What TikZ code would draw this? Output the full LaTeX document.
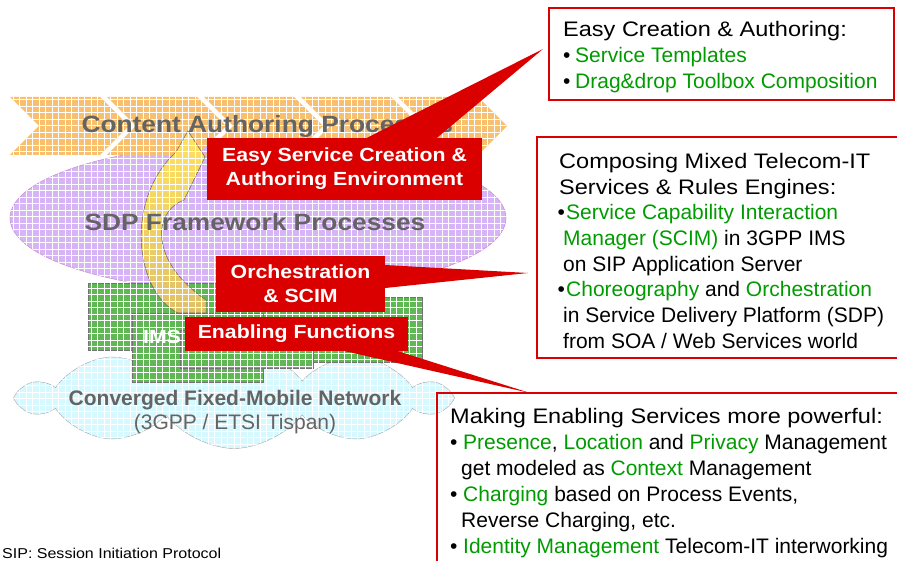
\documentclass[tikz,border=0pt]{standalone}
\usepackage{fontspec}
\setmainfont{Liberation Sans}
\newfontfamily\widesans[FakeStretch=1.12]{Liberation Sans}
\usetikzlibrary{shapes.symbols,patterns}

\definecolor{calloutred}{RGB}{218,0,0}
\definecolor{textgreen}{RGB}{0,155,0}
\definecolor{chevron}{RGB}{248,192,110}
\definecolor{lavender}{RGB}{214,180,246}
\definecolor{cloudblue}{RGB}{214,248,255}
\definecolor{imsgreen}{RGB}{96,184,84}
\definecolor{arrowyellow}{RGB}{255,226,96}
\definecolor{arrowochre}{RGB}{224,192,104}
\definecolor{labelgray}{RGB}{100,100,100}

\newcommand{\grn}[1]{\textcolor{textgreen}{#1}}

% faint white grid on the background shapes
\pgfdeclarepatternformonly{texgrid}{\pgfqpoint{-0.5pt}{-0.5pt}}{\pgfqpoint{7pt}{7pt}}{\pgfqpoint{6.5pt}{6.5pt}}{%
  \pgfsetlinewidth{0.35pt}%
  \pgfpathmoveto{\pgfqpoint{0pt}{0pt}}\pgfpathlineto{\pgfqpoint{6.5pt}{0pt}}%
  \pgfpathmoveto{\pgfqpoint{0pt}{0pt}}\pgfpathlineto{\pgfqpoint{0pt}{6.5pt}}%
  \pgfusepath{stroke}}

\tikzset{
  texture/.style={postaction={pattern=texgrid, pattern color=white, fill opacity=0.35}},
  chev/.style={fill=chevron, texture},
  win/.style={fill=imsgreen, draw=black!55, line width=0.4pt, texture},
  graylabel/.style={text=labelgray, font=\widesans\fontsize{23.5}{28}\selectfont\bfseries},
  callout/.style={fill=calloutred, text=white, align=center, inner sep=0,
    font=\widesans\fontsize{19}{24}\selectfont\bfseries},
  boxred/.style={draw=calloutred, line width=1.8pt},
  boxtext/.style={anchor=north west, align=left, inner sep=0,
    font=\fontsize{21}{26}\selectfont}
}

\begin{document}
\begin{tikzpicture}[x=1pt,y=-1pt]
  \useasboundingbox (0,0) rectangle (897,561);
  \clip (0,0) rectangle (897,561);

  % SDP ellipse
  \filldraw[fill=lavender, draw=violet!45, line width=0.5pt, texture]
    (258,218) ellipse [x radius=248pt, y radius=75pt];

  % Content authoring chevrons
  \foreach \x/\w in {10/90,107/90,204/90,301/90,398/80}
    \fill[chev] (\x,97) -- ++(\w,0) -- ++(29,29) -- ++(-29,29) -- ++(-\w,0) -- ++(29,-29) -- cycle;

  % Network cloud
  \node[cloud, draw=gray!70, fill=cloudblue, texture, cloud puffs=10, cloud puff arc=105, aspect=4.2,
    minimum width=425pt, minimum height=101pt, inner sep=0] (net) at (234,398) {};

  % IMS windows
  \foreach \a/\b/\c/\d in {88/283/330/350, 228/297/422/362, 132/313/263/382, 180/330/313/368}
    \filldraw[win] (\a,\b) rectangle (\c,\d);

  % Curved arrow
  \path[draw=black!60, line width=0.5pt, top color=arrowyellow, bottom color=arrowochre, texture]
    (178,313) .. controls (135,292) and (124,200) .. (176,152)
    -- (188,131) -- (205,157) -- (184,200)
    .. controls (152,212) and (150,262) .. (206,300) -- (206,313) -- cycle;

  % Layer labels
  \node[graylabel, anchor=west] (content) at (78,126) {Content Authoring Processes};
  \node[graylabel] (sdp) at (255,222) {SDP Framework Processes};
  \node[text=labelgray, font=\fontsize{21}{24}\selectfont\bfseries] (conv) at (235,400) {Converged Fixed-Mobile Network};
  \node[text=labelgray, font=\fontsize{21}{24}\selectfont] (tispan) at (235,424) {(3GPP / ETSI Tispan)};
  \node[text=white, font=\widesans\fontsize{19}{23}\selectfont\bfseries] (ims) at (162,337) {IMS};

  % Red callouts
  \coordinate (tipA) at (543,49);
  \coordinate (tipB) at (528,273);
  \coordinate (tipC) at (530,393);
  \node[callout, minimum width=275pt, minimum height=62pt] (easy) at (344.5,169) {Easy Service Creation \&\\Authoring Environment};
  \fill[calloutred] ([xshift=22.5pt]easy.north) -- (tipA) -- ([xshift=92.5pt]easy.north) -- cycle;
  \node[callout, minimum width=169pt, minimum height=56pt] (orch) at (300.5,284) {Orchestration\\\& SCIM};
  \fill[calloutred] ([yshift=19pt]orch.east) -- (tipB) -- ([yshift=-4pt]orch.east) -- cycle;
  \node[callout, minimum width=223pt, minimum height=34pt] (enab) at (296.5,334) {Enabling Functions};
  \fill[calloutred] ([xshift=48.5pt]enab.south) -- (tipC) -- ([xshift=101.5pt]enab.south) -- cycle;

  % Text boxes
  \draw[boxred] (549,8) rectangle (894,100);
  \node[boxtext] (authoring) at (563,21) {{\widesans Easy Creation \& Authoring:}\\
    \makebox[12pt][l]{•}\grn{Service Templates}\\
    \makebox[12pt][l]{•}\grn{Drag\&drop Toolbox Composition}};

  \draw[boxred] (537,137) rectangle (910,358);
  \node[boxtext, font=\fontsize{21}{25.7}\selectfont] (composing) at (559,153) {{\widesans Composing Mixed Telecom-IT}\\
    {\widesans Services \& Rules Engines:}\\
    \makebox[7pt][l]{\hspace{-1.5pt}•}\grn{Service Capability Interaction}\\
    \hspace{4pt}\grn{Manager (SCIM)} in 3GPP IMS\\
    \hspace{4pt}on SIP Application Server\\
    \makebox[7pt][l]{\hspace{-1.5pt}•}\grn{Choreography} and \grn{Orchestration}\\
    \hspace{4pt}in Service Delivery Platform (SDP)\\
    \hspace{4pt}from SOA / Web Services world};

  \draw[boxred] (437,393) rectangle (910,600);
  \node[boxtext] (enabling) at (450,408) {{\widesans Making Enabling Services more powerful:}\\
    \makebox[13pt][l]{•}\grn{Presence}, \grn{Location} and \grn{Privacy} Management\\
    \hspace{11pt}get modeled as \grn{Context} Management\\
    \makebox[13pt][l]{•}\grn{Charging} based on Process Events,\\
    \hspace{11pt}Reverse Charging, etc.\\
    \makebox[13pt][l]{•}\grn{Identity Management} Telecom-IT interworking};

  % Footnote
  \node[anchor=west, inner sep=0, font=\widesans\fontsize{14.3}{17}\selectfont] (sip) at (2,553) {SIP: Session Initiation Protocol};
\end{tikzpicture}
\end{document}
